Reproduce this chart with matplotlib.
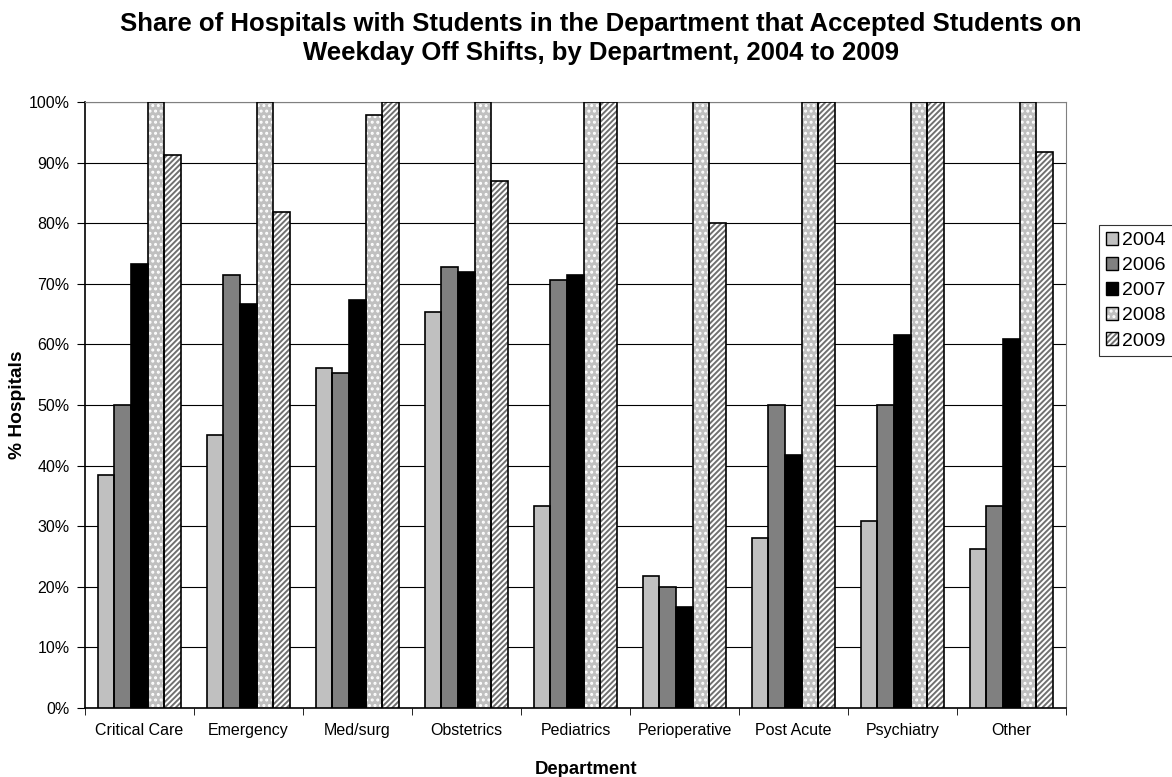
import numpy as np
import matplotlib.pyplot as plt
from matplotlib.patches import Patch

plt.rcParams['font.family'] = ['Liberation Sans', 'DejaVu Sans']
plt.rcParams['hatch.linewidth'] = 1.4

departments = ["Critical Care", "Emergency", "Med/surg", "Obstetrics", "Pediatrics",
               "Perioperative", "Post Acute", "Psychiatry", "Other"]
years = ["2004", "2006", "2007", "2008", "2009"]

share_2004 = [38.5, 45.0, 56.1, 65.4, 33.3, 21.7, 28.0, 30.8, 26.3]
share_2006 = [50.0, 71.4, 55.3, 72.7, 70.6, 20.0, 50.0, 50.0, 33.3]
share_2007 = [73.3, 66.7, 67.4, 72.0, 71.4, 16.7, 41.7, 61.5, 60.9]
share_2008 = [100.0, 100.0, 97.9, 100.0, 100.0, 100.0, 100.0, 100.0, 100.0]
share_2009 = [91.3, 81.8, 100.0, 87.0, 100.0, 80.0, 100.0, 100.0, 91.7]

series = [share_2004, share_2006, share_2007, share_2008, share_2009]

# fill colour, hatch pattern, hatch colour per year
styles = [
    ("#c0c0c0", None, "#c0c0c0"),
    ("#808080", None, "#808080"),
    ("#000000", None, "#000000"),
    ("#c0c0c0", "...", "#ffffff"),
    ("#ffffff", "//////", "#707070"),
]

fig = plt.figure(figsize=(11.72, 7.77), dpi=100)
ax = fig.add_axes([0.0725, 0.0888, 0.837, 0.78])

x = np.arange(len(departments))
width = 0.153
handles = []
for i, (vals, yr, (fc, hatch, hc)) in enumerate(zip(series, years, styles)):
    pos = x + (i - 2) * width
    # hatched fill first, then a plain black outline on top
    ax.bar(pos, vals, width, color=fc, edgecolor=hc, linewidth=0, hatch=hatch, zorder=3)
    ax.bar(pos, vals, width, fill=False, edgecolor="black", linewidth=1.2, zorder=4)
    handles.append((Patch(facecolor=fc, edgecolor=hc, linewidth=0, hatch=hatch),
                    Patch(fill=False, edgecolor="black", linewidth=1.0)))

ax.set_xlim(-0.5, len(departments) - 0.5)
ax.set_ylim(0, 100)
ax.set_yticks(np.arange(0, 101, 10))
ax.set_yticklabels([f"{v}%" for v in range(0, 101, 10)], fontsize=11.5)
ax.set_xticks(x)
ax.set_xticklabels(departments, fontsize=11.5)
ax.set_xticks(np.arange(-0.5, len(departments), 1), minor=True)
ax.tick_params(axis="x", which="major", length=0, pad=11)
ax.tick_params(axis="x", which="minor", length=5, direction="out")
ax.tick_params(axis="y", length=6, direction="out", pad=5)

ax.yaxis.grid(True, color="black", linewidth=0.8, zorder=0)
ax.set_axisbelow(True)
for side in ["top", "right"]:
    ax.spines[side].set_color("#808080")
ax.spines["left"].set_linewidth(1.2)
ax.spines["bottom"].set_linewidth(1.2)

ax.set_xlabel("Department", fontsize=13.3, fontweight="bold")
ax.xaxis.set_label_coords(0.511, -0.087)
ax.set_ylabel("% Hospitals", fontsize=13.8, fontweight="bold")
ax.yaxis.set_label_coords(-0.060, 0.5)
fig.suptitle("Share of Hospitals with Students in the Department that Accepted Students on\n"
             "Weekday Off Shifts, by Department, 2004 to 2009",
             fontsize=18.5, fontweight="bold", x=0.513, y=0.985, linespacing=1.3)

leg = fig.legend(handles, years, loc="upper left", bbox_to_anchor=(1099 / 1172, 1 - 225 / 777),
                 fontsize=14, frameon=True, fancybox=False, edgecolor="black",
                 handlelength=0.65, handleheight=0.65, handletextpad=0.2,
                 labelspacing=0.4, borderpad=0.35, borderaxespad=0)
leg.get_frame().set_linewidth(0.8)

plt.savefig("out.png", dpi=100)
